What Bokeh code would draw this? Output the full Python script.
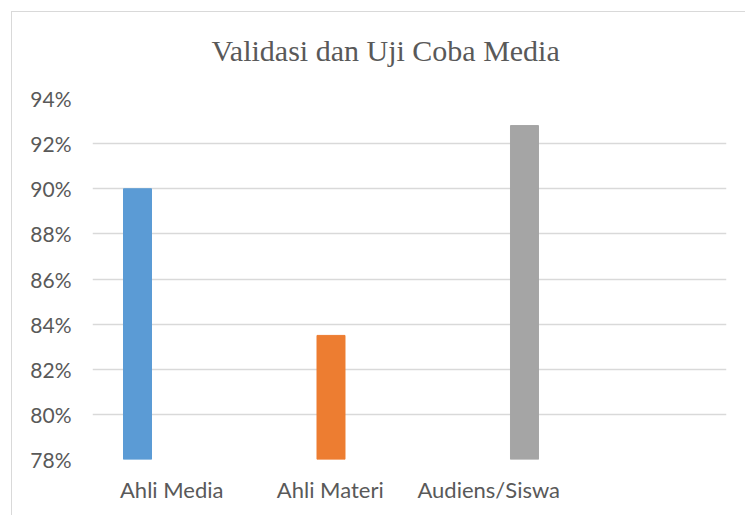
from bokeh.plotting import figure
from bokeh.models import (Range1d, LinearAxis, FixedTicker, NumeralTickFormatter,
                          ColumnDataSource)
from bokeh.embed import file_html
from bokeh.resources import INLINE

# ---- data ----
categories = ["Ahli Media", "Ahli Materi", "Audiens/Siswa"]
values = [0.90, 0.835, 0.928]
colors = ["#5B9BD5", "#ED7D31", "#A5A5A5"]
y_ticks = [0.78, 0.80, 0.82, 0.84, 0.86, 0.88, 0.90, 0.92, 0.94]
title_text = "Validasi dan Uji Coba Media"

# ---- layout ----
TEXT = "#595959"
GRID = "#d9d9d9"

src = ColumnDataSource(dict(x=list(range(len(categories))), top=values,
                            color=colors, cat=categories))

p = figure(width=745, height=515, output_backend="svg", toolbar_location=None,
           x_range=Range1d(-0.2326, 3.044), y_range=Range1d(0.78, 0.94),
           x_axis_location=None, min_border_left=92, min_border_right=19,
           min_border_top=98, min_border_bottom=56)
# thin chart-area border (left and top edges) drawn behind the transparent canvas
p.styles = {
    "background-image": "linear-gradient(#d9d9d9, #d9d9d9), linear-gradient(#d9d9d9, #d9d9d9)",
    "background-size": "100% 1px, 1px 100%",
    "background-position": "11px 11px, 11px 11px",
    "background-repeat": "no-repeat",
}
p.outline_line_color = None
p.background_fill_color = "white"
p.border_fill_alpha = 0

p.vbar(x="x", top="top", bottom=0.78, width=0.1447, color="color", source=src)

# y axis
p.yaxis.ticker = FixedTicker(ticks=y_ticks)
p.yaxis.formatter = NumeralTickFormatter(format="0%")
p.yaxis.axis_line_color = None
p.yaxis.major_tick_line_color = None
p.yaxis.minor_tick_line_color = None
p.yaxis.major_label_text_font = "Lato"
p.yaxis.major_label_text_font_size = "21px"
p.yaxis.major_label_text_color = TEXT
p.yaxis.major_label_standoff = 15

p.ygrid.ticker = FixedTicker(ticks=y_ticks)
p.ygrid.grid_line_color = GRID
p.ygrid.grid_line_width = 1.3
p.xgrid.grid_line_color = None

# category label axis
p.extra_x_ranges = {"labels": Range1d(0, len(categories) + 1)}
label_pos = [i + 0.5 for i in range(len(categories))]
xa = LinearAxis(x_range_name="labels", ticker=FixedTicker(ticks=label_pos),
                major_label_overrides={pos: c for pos, c in zip(label_pos, categories)})
xa.axis_line_color = None
xa.major_tick_line_color = None
xa.minor_tick_line_color = None
xa.major_label_text_font = "Lato"
xa.major_label_text_font_size = "22px"
xa.major_label_text_color = TEXT
xa.major_label_standoff = 10
p.add_layout(xa, "below")

p.title.text = title_text
p.title.align = "left"
p.title.offset = 119
p.title.vertical_align = "top"
p.title.text_font = "Liberation Serif"
p.title.text_font_size = "30px"
p.title.text_font_style = "normal"
p.title.text_color = TEXT
p.title.standoff = 60

open("out.html", "w").write(file_html(p, INLINE))
